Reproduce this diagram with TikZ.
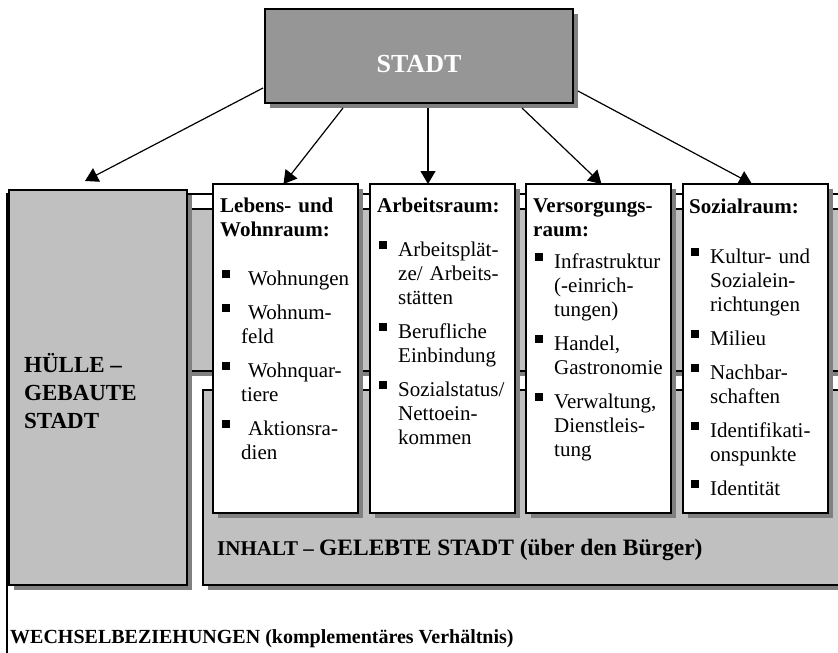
\documentclass[tikz,border=0pt]{standalone}
\usepackage{fontspec}
\setmainfont{Liberation Serif}
\usepackage{tikz}
\usetikzlibrary{shadows,arrows.meta}
\definecolor{boxgray}{RGB}{192,192,192}
\definecolor{midgray}{RGB}{150,150,150}
\definecolor{shadegray}{RGB}{128,128,128}
\tikzstyle{boxshadow}=[drop shadow={shadow xshift=5pt, shadow yshift=-5pt, fill=shadegray, opacity=1}]
\tikzstyle{framed}=[draw, line width=1.1pt]
\tikzstyle{graybox}=[rectangle, framed, boxshadow, fill=boxgray, inner sep=0pt, outer sep=0pt, anchor=north west]
\tikzstyle{colbox}=[rectangle, framed, boxshadow, fill=white, inner sep=0pt, outer sep=0pt, minimum width=145pt, minimum height=329pt, anchor=north west]
\tikzstyle{coltext}=[anchor=north west, inner sep=0pt, text width=138pt, align=left, font=\fontsize{21}{24}\selectfont]
\tikzstyle{pfeil}=[line width=1.2pt, -{Triangle[length=13pt, width=15pt]}]
\newcommand{\sqb}{\rule[7pt]{8pt}{8pt}}
\newcommand{\itm}[1]{\par\vspace{10pt}\hangindent=21pt\hangafter=1\noindent\makebox[21pt][l]{\hspace{2pt}\sqb}#1}
\newcommand{\colstrut}{\rule{0pt}{17pt}}

\begin{document}
\begin{tikzpicture}[x=1pt, y=-1pt]
    \useasboundingbox (0,0) rectangle (838,653);
    \clip (0,0) rectangle (838,653);

    % outer frame and the two wide bands
    \draw[framed, fill=white] (7,194) rectangle (900,700);
    \path[framed, boxshadow, fill=boxgray] (100,209) rectangle (900,371);
    \node[graybox, minimum width=178pt, minimum height=395pt] (huelle) at (9,190) {};
    \node[graybox, minimum width=700pt, minimum height=195pt] (inhalt) at (203,390) {};

    % the four columns, using a loop
    \foreach \n/\x in {leben/213, arbeit/370, versorg/526, sozial/683}
    \node[colbox] (\n) at (\x,184) {};

    \node[coltext] (lebenT) at ([shift={(7,11)}]leben.north west) {%
      {\bfseries\colstrut Lebens- und\newline Wohnraum:}\par\vspace{15pt}
      \itm{\hspace{7pt}Wohnungen}
      \itm{\hspace{7pt}Wohnum-\newline feld}
      \itm{\hspace{7pt}Wohnquar-\newline tiere}
      \itm{\hspace{7pt}Aktionsra-\newline dien}\par};
    \node[coltext] (arbeitT) at ([shift={(7,11)}]arbeit.north west) {%
      {\bfseries\colstrut Arbeitsraum:}\par\vspace{10pt}
      \itm{Arbeitsplät-\newline ze/ Arbeits-\newline stätten}
      \itm{Berufliche\newline Einbindung}
      \itm{Sozialstatus/\newline Nettoein-\newline kommen}\par};
    \node[coltext] (versorgT) at ([shift={(7,11)}]versorg.north west) {%
      {\bfseries\colstrut Versorgungs-\newline raum:}\par\vspace{-2pt}
      \itm{Infrastruktur\newline (-einrich-\newline tungen)}
      \itm{Handel,\newline Gastronomie}
      \itm{Verwaltung,\newline Dienstleis-\newline tung}\par};
    \node[coltext] (sozialT) at ([shift={(6,12)}]sozial.north west) {%
      {\bfseries\colstrut Sozialraum:}\par\vspace{16pt}
      \itm{Kultur- und\newline Sozialein-\newline richtungen}
      \itm{Milieu}
      \itm{Nachbar-\newline schaften}
      \itm{Identifikati-\newline onspunkte}
      \itm{Identität}\par};

    % labels of the bands
    \node[anchor=north west, inner sep=0pt, align=left, font=\fontsize{23}{28}\selectfont\bfseries]
      (huelleT) at ([shift={(15,160)}]huelle.north west) {\rule{0pt}{22pt}HÜLLE –\\GEBAUTE\\STADT};
    \node[anchor=base west, inner sep=0pt] (inhaltT) at (217,555)
      {\bfseries\fontsize{21}{24}\selectfont INHALT – \fontsize{23.5}{28}\selectfont GELEBTE STADT (über den Bürger)};
    \node[anchor=base west, inner sep=0pt] (wechselT) at (10,643)
      {\bfseries\fontsize{20}{24}\selectfont WECHSELBEZIEHUNGEN (komplementäres Verhältnis)};

    % top box
    \node[graybox, fill=midgray, minimum width=308pt, minimum height=94pt, text height=33pt, text depth=0pt,
      font=\fontsize{26}{30}\selectfont\bfseries, text=white] (stadt) at (265,9) {STADT};

    % arrows
    \draw[pfeil] ([shift={(-2,-15)}]stadt.south west) -- ([shift={(-13,-9)}]huelle.north);
    \draw[pfeil] ([shift={(78,5)}]stadt.south west) -- ([xshift=-2pt]leben.north);
    \draw[pfeil] ([shift={(9,5)}]stadt.south) -- ([xshift=-14.5pt]arbeit.north);
    \draw[pfeil] ([shift={(-51,5)}]stadt.south east) -- ([xshift=3pt]versorg.north);
    \draw[pfeil] ([shift={(5,-12)}]stadt.south east) -- ([xshift=-3.5pt]sozial.north);
\end{tikzpicture}
\end{document}
